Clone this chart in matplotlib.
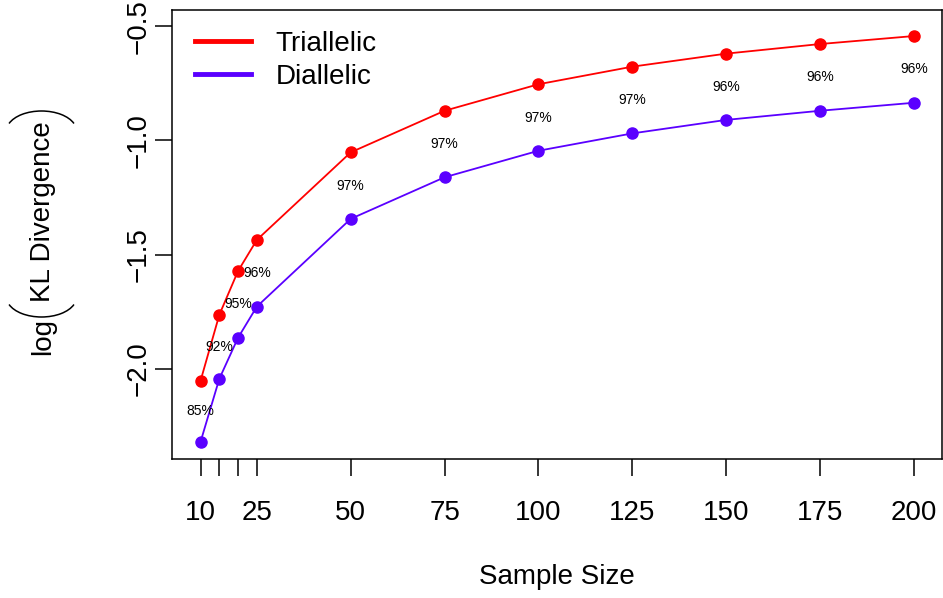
import matplotlib
matplotlib.use("Agg")
import matplotlib.pyplot as plt
from matplotlib.patches import Arc
import numpy as np

plt.rcParams["font.family"] = ["Liberation Sans", "DejaVu Sans"]

# data
sample_size = [10, 15, 20, 25, 50, 75, 100, 125, 150, 175, 200]
triallelic = [-2.052, -1.763, -1.571, -1.435, -1.052, -0.870, -0.754, -0.677, -0.620, -0.578, -0.543]
diallelic = [-2.319, -2.043, -1.863, -1.727, -1.343, -1.161, -1.045, -0.969, -0.910, -0.870, -0.835]
pct_labels = ["85%", "92%", "95%", "96%", "97%", "97%", "97%", "97%", "96%", "96%", "96%"]
x_ticks = [10, 15, 20, 25, 50, 75, 100, 125, 150, 175, 200]
x_ticklabels = ["10", "", "", "25", "50", "75", "100", "125", "150", "175", "200"]
y_ticks = [-2.0, -1.5, -1.0, -0.5]

red = "#FF0000"
blue = "#5A00FF"
W, H = 943, 598

fig = plt.figure(figsize=(W / 100, H / 100), dpi=100)
ax = fig.add_axes([0.1824, 0.232, 0.8162, 0.7513])

ax.plot(sample_size, triallelic, color=red, lw=1.3, marker="o", ms=8, mec=red, mfc=red, label="Triallelic")
ax.plot(sample_size, diallelic, color=blue, lw=1.3, marker="o", ms=8, mec=blue, mfc=blue, label="Diallelic")

# coverage labels sit halfway between the two curves
mid = (np.array(triallelic) + np.array(diallelic)) / 2
for x, y, s in zip(sample_size, mid, pct_labels):
    ax.text(x, y, s, ha="center", va="center", fontsize=10)

ax.set_xlim(2.4, 207.4)
ax.set_ylim(-2.395, -0.429)

ax.set_xticks(x_ticks)
ax.set_xticklabels(x_ticklabels)
ax.set_yticks(y_ticks)
ax.set_yticklabels([f"{v:.1f}".replace("-", "\u2212") for v in y_ticks], rotation=90, va="center")

ax.tick_params(axis="x", length=12, width=1.1, labelsize=20, pad=17)
ax.tick_params(axis="y", length=12, width=1.1, labelsize=20, pad=3)
for sp in ax.spines.values():
    sp.set_linewidth(1.1)

ax.set_xlabel("Sample Size", fontsize=20, labelpad=28)

# y label: log( KL Divergence ) with tall R-style brackets, placed in pixels
fig.text(43 / W, (H - 355) / H, "log", rotation=90, ha="center", va="bottom", fontsize=20)
fig.text(43 / W, (H - 302) / H, "KL Divergence", rotation=90, ha="center", va="bottom", fontsize=20)
fig.add_artist(Arc((41.5 / W, (H - 297) / H), 70 / W, 40 / H, theta1=200, theta2=340,
                   transform=fig.transFigure, lw=1.1, color="black"))
fig.add_artist(Arc((41.5 / W, (H - 131) / H), 70 / W, 40 / H, theta1=20, theta2=160,
                   transform=fig.transFigure, lw=1.1, color="black"))

leg = ax.legend(loc="upper left", frameon=False, fontsize=20,
                handlelength=2.0, handletextpad=0.9, labelspacing=0.25,
                borderpad=0, borderaxespad=0,
                bbox_to_anchor=(195 / W, (H - 31) / H), bbox_transform=fig.transFigure)
for ln in leg.get_lines():
    ln.set_linewidth(3.5)
    ln.set_marker("")

fig.savefig("out.png", dpi=100)
